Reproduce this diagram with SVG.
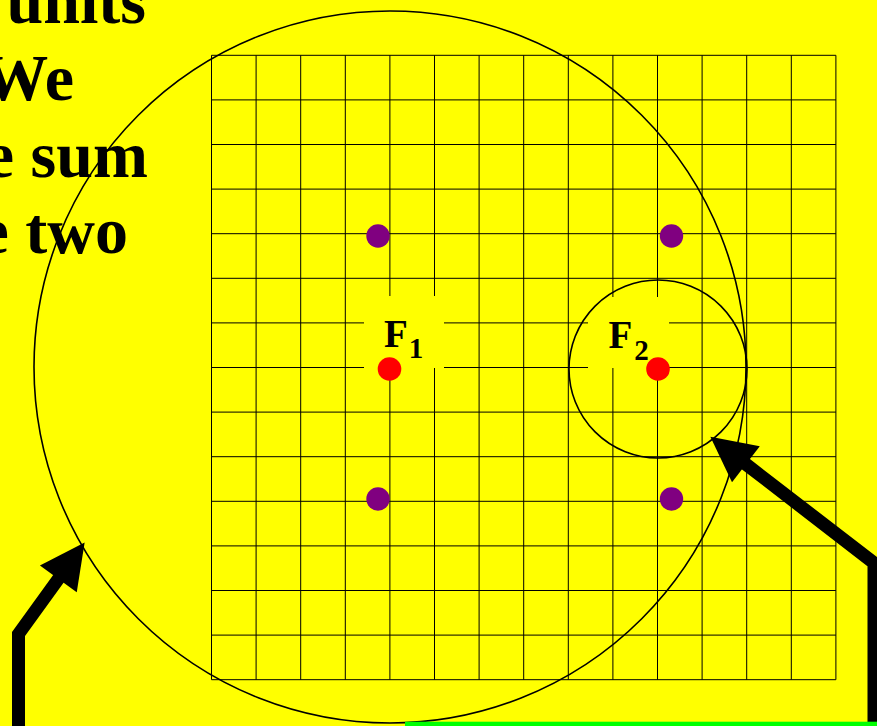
<svg xmlns="http://www.w3.org/2000/svg" width="877" height="726" viewBox="0 0 877 726">
  <style>
    .grid { stroke: #000; stroke-width: 1; fill: none; }
    .ring { stroke: #000; stroke-width: 1.6; fill: none; }
    .focus { fill: #FF0000; }
    .pt { fill: #800080; }
    .lblbg { fill: #FFFF00; }
    .lbl { font-family: "Liberation Serif", "Times New Roman", serif; font-weight: bold; font-size: 39px; fill: #000; }
    .body { font-family: "Liberation Serif", "Times New Roman", serif; font-weight: bold; font-size: 66px; fill: #000; text-anchor: end; }
    .arrow { stroke: #000; stroke-width: 13; fill: none; stroke-linejoin: miter; stroke-miterlimit: 10; marker-end: url(#head); }
  </style>
  <defs>
    <marker id="head" markerUnits="userSpaceOnUse" markerWidth="50" markerHeight="50" viewBox="-2 -22 44 44" refX="0" refY="0" orient="auto" overflow="visible">
      <path d="M-1,-20 L38.5,0 L-1,20 Z" fill="#000"/>
    </marker>
  </defs>
  <rect x="0" y="0" width="877" height="726" fill="#FFFF00"/>

  <g id="text-fragment">
    <text class="body" x="146" y="23">units</text>
    <text class="body" x="74" y="100">We</text>
    <text class="body" x="148" y="177">e sum</text>
    <text class="body" x="128" y="253">e two</text>
  </g>

  <g id="grid">
    <path class="grid" d="M211.5,55.3V679.7 M256.1,55.3V679.7 M300.7,55.3V679.7 M345.3,55.3V679.7 M389.9,55.3V679.7 M434.5,55.3V679.7 M479.1,55.3V679.7 M523.7,55.3V679.7 M568.3,55.3V679.7 M612.9,55.3V679.7 M657.5,55.3V679.7 M702.1,55.3V679.7 M746.7,55.3V679.7 M791.3,55.3V679.7 M835.9,55.3V679.7 M211.5,55.3H835.9 M211.5,99.9H835.9 M211.5,144.5H835.9 M211.5,189.1H835.9 M211.5,233.7H835.9 M211.5,278.3H835.9 M211.5,322.9H835.9 M211.5,367.5H835.9 M211.5,412.1H835.9 M211.5,456.7H835.9 M211.5,501.3H835.9 M211.5,545.9H835.9 M211.5,590.5H835.9 M211.5,635.1H835.9 M211.5,679.7H835.9"/>
  </g>

  <g id="label-backgrounds">
    <rect class="lblbg" x="364" y="296" width="80" height="72"/>
    <rect class="lblbg" x="588" y="297" width="81" height="71"/>
  </g>

  <g id="big-circle">
    <circle class="ring" cx="390" cy="367" r="356"/>
  </g>
  <g id="small-circle">
    <circle class="ring" cx="658" cy="369" r="89"/>
  </g>

  <g id="F1">
    <circle class="focus" cx="389.5" cy="369" r="11.8"/>
    <text class="lbl" x="384" y="347">F<tspan font-size="29" dx="1" dy="11">1</tspan></text>
  </g>
  <g id="F2">
    <circle class="focus" cx="658" cy="369" r="11.8"/>
    <text class="lbl" x="608.5" y="348">F<tspan font-size="29" dx="2" dy="12">2</tspan></text>
  </g>

  <g id="point-top-left"><circle class="pt" cx="378" cy="236" r="11.7"/></g>
  <g id="point-top-right"><circle class="pt" cx="671.5" cy="236" r="11.7"/></g>
  <g id="point-bottom-left"><circle class="pt" cx="378" cy="499" r="11.7"/></g>
  <g id="point-bottom-right"><circle class="pt" cx="671.5" cy="499" r="11.7"/></g>

  <g id="connectors">
    <polyline class="arrow" points="18.5,732 18.5,634 59,578"/>
    <polyline class="arrow" points="874,732 874,563 745,463.5"/>
  </g>

  <rect id="green-bar" x="405" y="721.7" width="472" height="5" fill="#00FF00"/>
</svg>
